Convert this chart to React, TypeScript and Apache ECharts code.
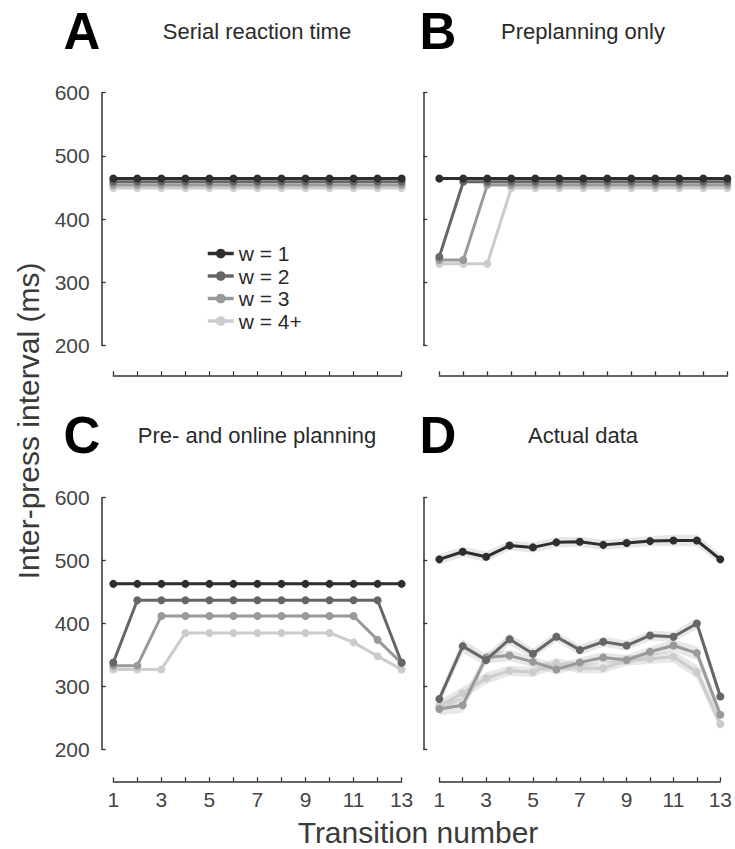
import React, { useEffect, useRef } from "react";
import * as echarts from "echarts";

// ---------- data ----------
const transitions = ["1", "2", "3", "4", "5", "6", "7", "8", "9", "10", "11", "12", "13"];
const seriesNames = ["w = 1", "w = 2", "w = 3", "w = 4+"];
const seriesColors = ["#2e2e2e", "#666666", "#999999", "#cccccc"];
const yTicks = [200, 300, 400, 500, 600];

// A: Serial reaction time
const srtW1 = [464, 464, 464, 464, 464, 464, 464, 464, 464, 464, 464, 464, 464];
const srtW2 = [459, 459, 459, 459, 459, 459, 459, 459, 459, 459, 459, 459, 459];
const srtW3 = [454, 454, 454, 454, 454, 454, 454, 454, 454, 454, 454, 454, 454];
const srtW4 = [449, 449, 449, 449, 449, 449, 449, 449, 449, 449, 449, 449, 449];

// B: Preplanning only
const preW1 = [464, 464, 464, 464, 464, 464, 464, 464, 464, 464, 464, 464, 464];
const preW2 = [340, 459, 459, 459, 459, 459, 459, 459, 459, 459, 459, 459, 459];
const preW3 = [335, 335, 454, 454, 454, 454, 454, 454, 454, 454, 454, 454, 454];
const preW4 = [329, 329, 329, 449, 449, 449, 449, 449, 449, 449, 449, 449, 449];

// C: Pre- and online planning
const onlW1 = [463, 463, 463, 463, 463, 463, 463, 463, 463, 463, 463, 463, 463];
const onlW2 = [338, 437, 437, 437, 437, 437, 437, 437, 437, 437, 437, 437, 338];
const onlW3 = [333, 333, 412, 412, 412, 412, 412, 412, 412, 412, 412, 374, 337];
const onlW4 = [327, 327, 327, 385, 385, 385, 385, 385, 385, 385, 370, 348, 327];

// D: Actual data (mean and s.e.m.)
const actW1 = [502, 514, 506, 524, 521, 529, 530, 525, 528, 531, 532, 532, 502];
const actW2 = [280, 364, 342, 375, 352, 379, 358, 371, 365, 381, 379, 400, 284];
const actW3 = [264, 270, 346, 349, 339, 327, 338, 346, 342, 355, 365, 353, 255];
const actW4 = [269, 289, 313, 325, 323, 337, 329, 329, 341, 344, 347, 323, 240];
const semW1 = [8, 8, 8, 8, 8, 8, 8, 8, 8, 8, 9, 9, 8];
const semW2 = [9, 11, 9, 9, 8, 8, 8, 8, 8, 8, 8, 9, 9];
const semW3 = [10, 12, 9, 9, 8, 8, 8, 8, 8, 8, 9, 11, 10];
const semW4 = [9, 10, 9, 8, 8, 8, 8, 8, 8, 8, 9, 11, 10];

const panelData = [
  [srtW1, srtW2, srtW3, srtW4],
  [preW1, preW2, preW3, preW4],
  [onlW1, onlW2, onlW3, onlW4],
  [actW1, actW2, actW3, actW4],
];
const actualSem = [semW1, semW2, semW3, semW4];

const panelLetters = ["A", "B", "C", "D"];
const panelTitles = ["Serial reaction time", "Preplanning only", "Pre- and online planning", "Actual data"];

// ---------- layout ----------
const FONT = "'Liberation Sans', Arial, Helvetica, sans-serif";
const grids = [
  { left: 113.3, top: 92.7, width: 288.3, height: 252.6, yOff: 11.6, xOff: 30, yLabels: true, xLabels: false },
  { left: 439.3, top: 92.7, width: 288, height: 252.6, yOff: 16, xOff: 30, yLabels: false, xLabels: false },
  { left: 113.3, top: 497.7, width: 288.3, height: 251.6, yOff: 11.6, xOff: 32, yLabels: true, xLabels: true },
  { left: 439.3, top: 497.7, width: 288, height: 251.6, yOff: 16, xOff: 32, yLabels: false, xLabels: true },
];
const letterPos = [[82, 31], [438, 31], [82, 435], [438, 435]];
const titlePos = [[257, 31], [583, 31], [257, 435], [583, 435]];

export default function App() {
  const ref = useRef<HTMLDivElement>(null);

  useEffect(() => {
    if (!ref.current) return;
    const chart = echarts.init(ref.current, undefined, { renderer: "svg" });

    const axisColor = "#333";
    const labelColor = "#444";
    const xAxes = grids.map((g, i) => ({
      type: "category",
      gridIndex: i,
      data: transitions,
      boundaryGap: false,
      offset: g.xOff,
      axisLine: { show: true, lineStyle: { color: axisColor, width: 1.5 } },
      axisTick: { show: true, inside: true, length: 4, interval: 0, lineStyle: { color: axisColor, width: 1.3 } },
      axisLabel: { show: g.xLabels, interval: 1, fontSize: 21, color: labelColor, margin: 8, fontFamily: FONT },
      splitLine: { show: false },
    }));
    const yAxes = grids.map((g, i) => ({
      type: "value",
      gridIndex: i,
      min: yTicks[0],
      max: yTicks[yTicks.length - 1],
      interval: 100,
      offset: g.yOff,
      axisLine: { show: true, lineStyle: { color: axisColor, width: 1.5 } },
      axisTick: { show: true, inside: true, length: 4, lineStyle: { color: axisColor, width: 1.3 } },
      axisLabel: { show: g.yLabels, fontSize: 21, color: labelColor, margin: 12, fontFamily: FONT },
      splitLine: { show: false },
    }));

    const series: any[] = [];
    // s.e.m. bands for the actual data
    actualSem.forEach((sem, k) => {
      const mean = panelData[3][k];
      series.push({
        type: "line",
        name: "band-low-" + k,
        xAxisIndex: 3,
        yAxisIndex: 3,
        stack: "band" + k,
        data: mean.map((v, j) => v - sem[j]),
        symbol: "none",
        lineStyle: { opacity: 0, width: 0 },
        silent: true,
        z: 1,
      });
      series.push({
        type: "line",
        name: "band-" + k,
        xAxisIndex: 3,
        yAxisIndex: 3,
        stack: "band" + k,
        data: sem.map((s) => 2 * s),
        symbol: "none",
        lineStyle: { opacity: 0, width: 0 },
        areaStyle: { color: "rgba(120,120,120,0.26)" },
        silent: true,
        z: 1,
      });
    });
    panelData.forEach((panel, p) => {
      for (let k = panel.length - 1; k >= 0; k--) {
        series.push({
          type: "line",
          name: seriesNames[k],
          xAxisIndex: p,
          yAxisIndex: p,
          data: panel[k],
          symbol: "circle",
          symbolSize: 8,
          showSymbol: true,
          lineStyle: { color: seriesColors[k], width: 3 },
          itemStyle: { color: seriesColors[k] },
          z: 3 + (panel.length - k),
        });
      }
    });

    const graphics: any[] = [];
    panelLetters.forEach((t, i) => {
      graphics.push({
        type: "text",
        x: letterPos[i][0],
        y: letterPos[i][1],
        style: { text: t, fontSize: 51, fontWeight: "bold", fontFamily: FONT, fill: "#000", align: "center", verticalAlign: "middle" },
      });
    });
    panelTitles.forEach((t, i) => {
      graphics.push({
        type: "text",
        x: titlePos[i][0],
        y: titlePos[i][1],
        style: { text: t, fontSize: 22, fontFamily: FONT, fill: "#2a2a2a", align: "center", verticalAlign: "middle" },
      });
    });
    graphics.push({
      type: "text",
      x: 418,
      y: 832,
      style: { text: "Transition number", fontSize: 30, fontFamily: FONT, fill: "#3a3a3a", align: "center", verticalAlign: "middle" },
    });
    graphics.push({
      type: "text",
      x: 28,
      y: 421,
      rotation: Math.PI / 2,
      style: { text: "Inter-press interval (ms)", fontSize: 30, fontFamily: FONT, fill: "#3a3a3a", align: "center", verticalAlign: "middle" },
    });

    chart.setOption({
      animation: false,
      backgroundColor: "#fff",
      textStyle: { fontFamily: FONT },
      grid: grids.map((g) => ({ left: g.left, top: g.top, width: g.width, height: g.height, containLabel: false })),
      xAxis: xAxes,
      yAxis: yAxes,
      legend: {
        data: seriesNames,
        orient: "vertical",
        left: 201,
        top: 238,
        itemWidth: 26,
        itemHeight: 12,
        itemGap: 1.5,
        selectedMode: false,
        lineStyle: { width: 3.5 },
        textStyle: { fontSize: 21, color: "#2a2a2a", lineHeight: 21, fontFamily: FONT },
      },
      graphic: graphics,
      series,
    });

    return () => chart.dispose();
  }, []);

  return (
    <div
      ref={ref}
      style={{ position: "fixed", left: 0, top: 0, width: 735, height: 849, background: "#fff" }}
    />
  );
}
